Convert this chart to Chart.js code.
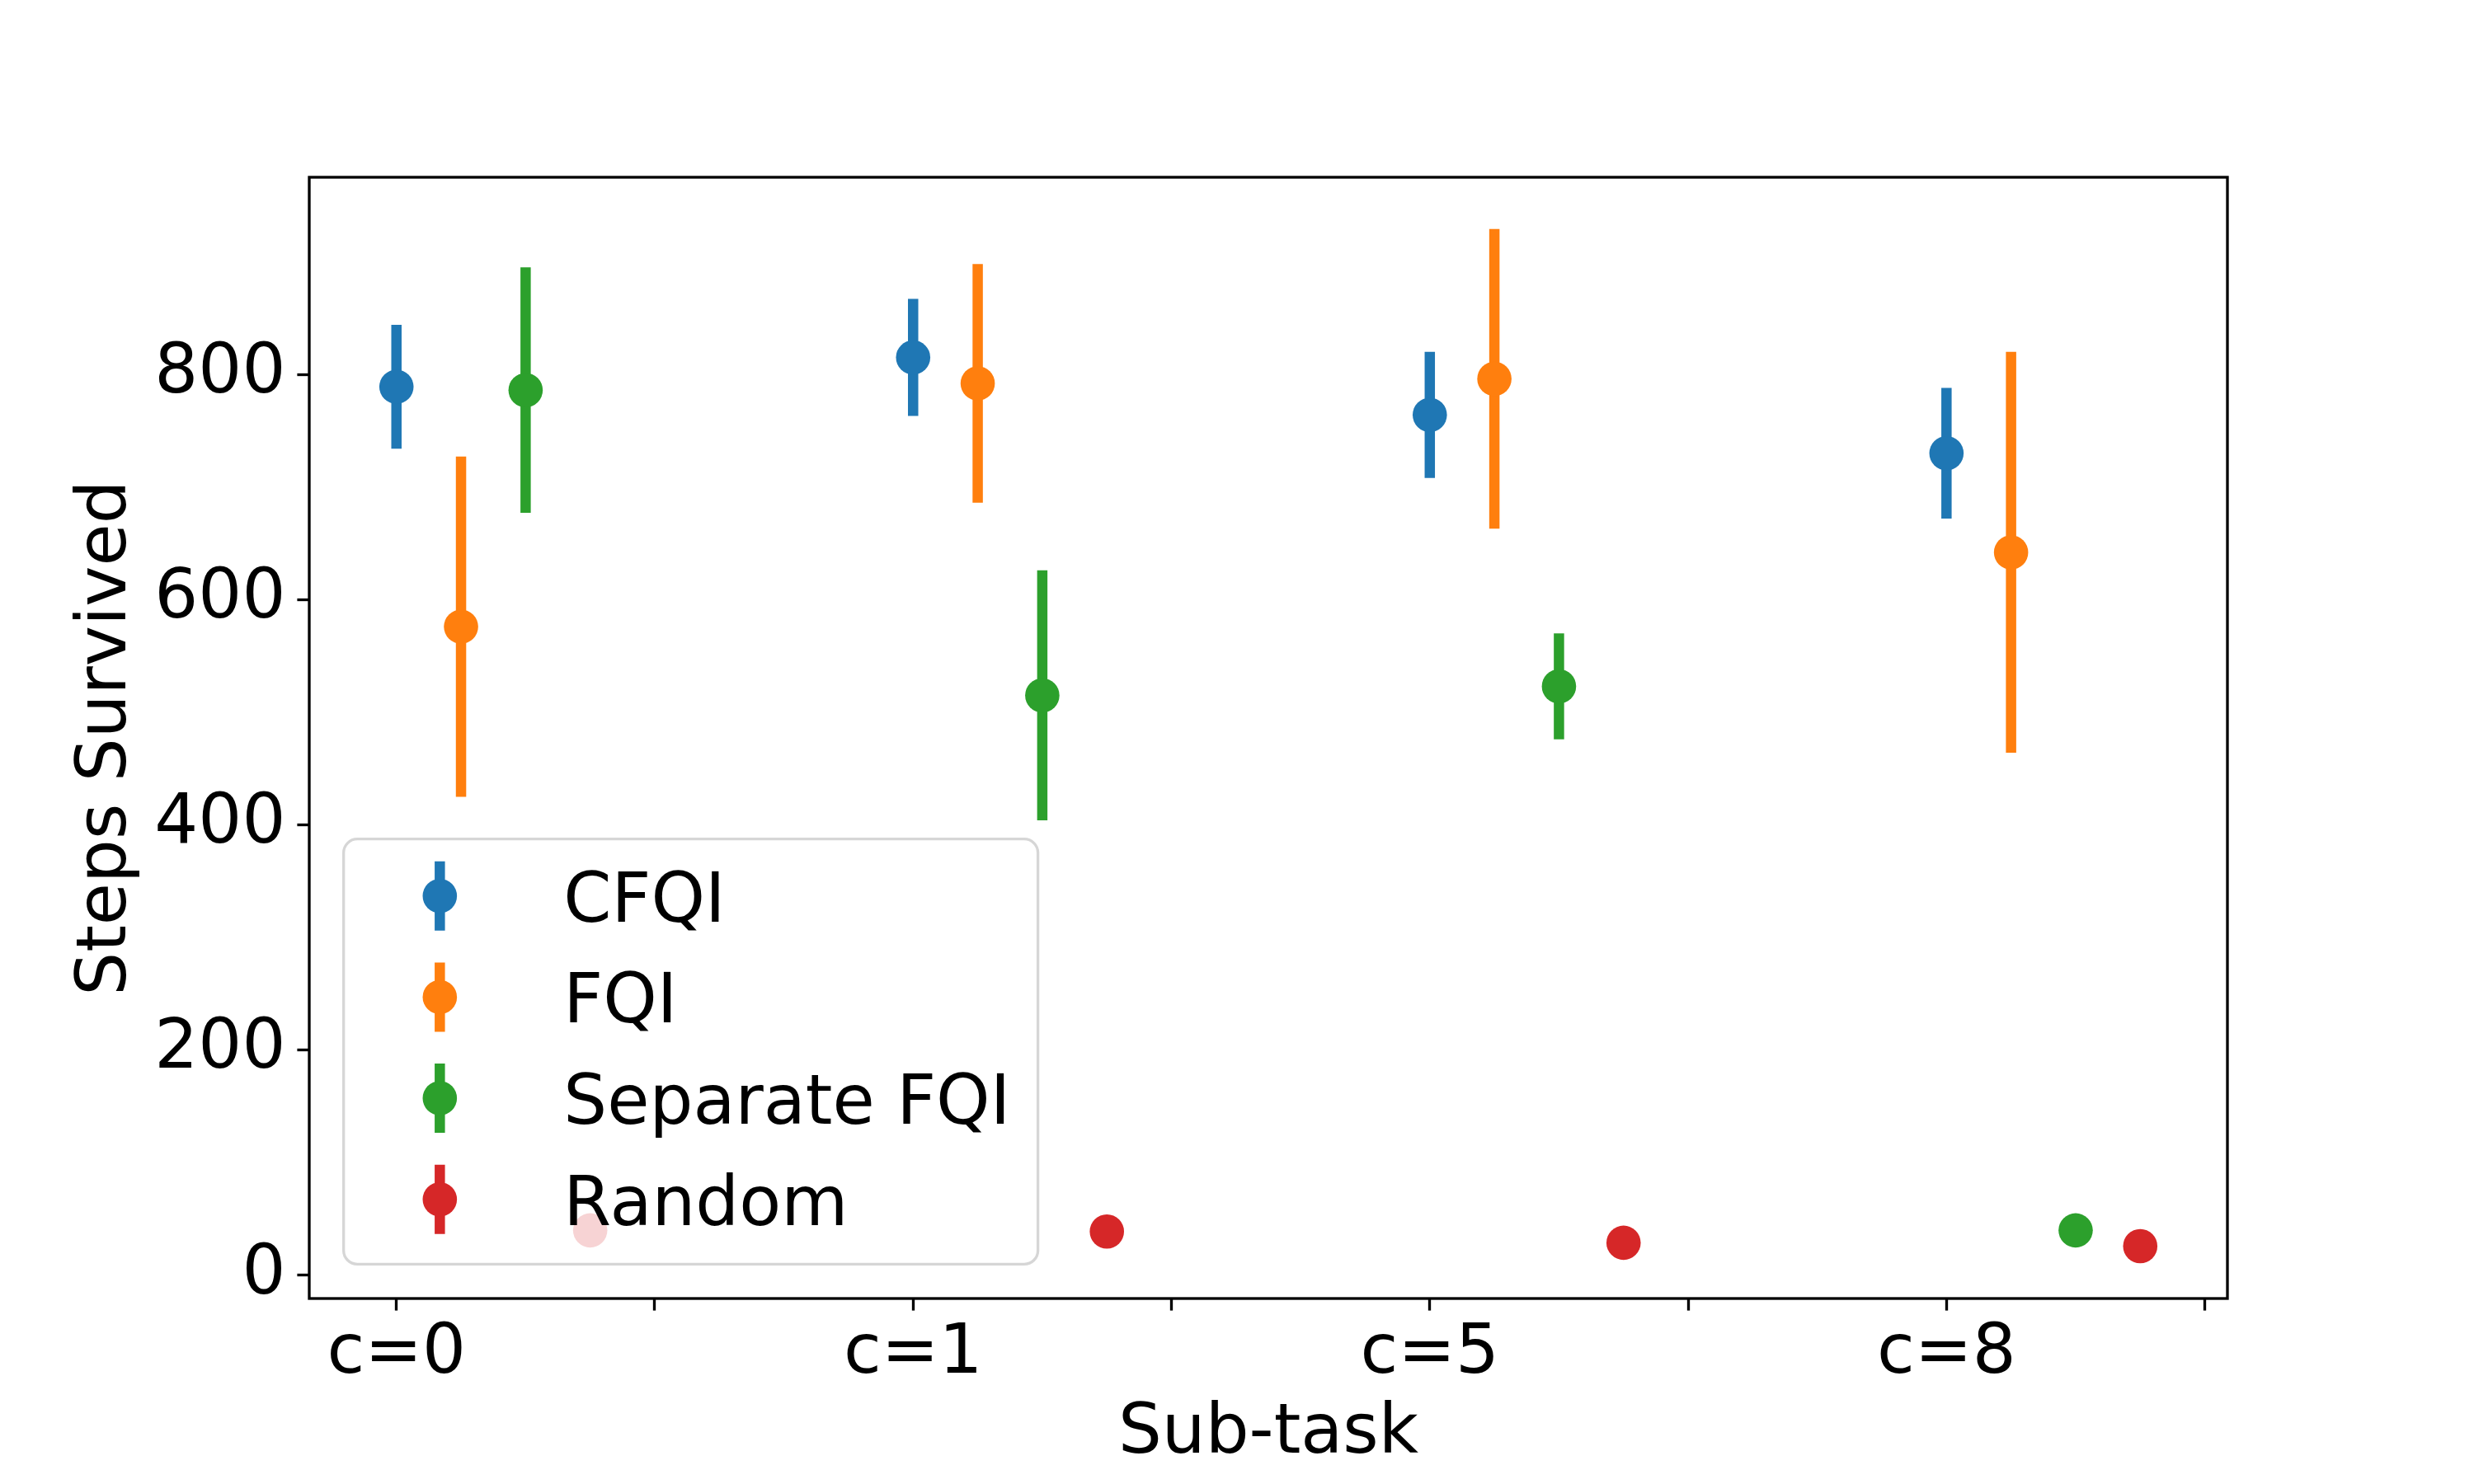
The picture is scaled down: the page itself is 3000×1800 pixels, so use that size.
<!DOCTYPE html>
<html><head><meta charset="utf-8">
<script src="https://cdn.jsdelivr.net/npm/chart.js@4.4.1/dist/chart.umd.min.js"></script>
<style>html,body{margin:0;padding:0;background:#fff}canvas{display:block}</style>
</head><body>
<canvas id="c" width="3000" height="1800" style="width:3000px;height:1800px"></canvas>
<script>
// ---- data ----
const categories = ['c=0', 'c=1', 'c=5', 'c=8'];
const seriesNames = ['CFQI', 'FQI', 'Separate FQI', 'Random'];
const seriesOffsets = [0, 0.125, 0.25, 0.375];
const cfqiMean = [789, 815, 764, 730];
const cfqiErr  = [55, 52, 56, 58];
const fqiMean  = [576, 792, 796, 642];
const fqiErr   = [151, 106, 133, 178];
const sepMean  = [786, 515, 523, 40];
const sepErr   = [109, 111, 47, 5];
const randMean = [40, 39, 29, 26];
const randErr  = [4, 4, 4, 4];
const yTicks = [0, 200, 400, 600, 800];
const xMajorTicks = [0, 1, 2, 3];
const xMinorTicks = [0.5, 1.5, 2.5, 3.5];

// ---- style ----
const colors = ['#1f77b4', '#ff7f0e', '#2ca02c', '#d62728'];
const FS = 83.33;
const FONT = 'DejaVu Sans';
const ERR_W = 12.5;
const MARK_R = 20.8;
const xMin = -0.16875, xMax = 3.54375;
const yMin = -20.5, yMax = 975;

Chart.defaults.font.family = FONT;
Chart.defaults.color = '#000';

const means = [cfqiMean, fqiMean, sepMean, randMean];
const errs = [cfqiErr, fqiErr, sepErr, randErr];

const datasets = seriesNames.map((name, s) => ({
  label: name,
  data: categories.map((c, i) => ({ x: i + seriesOffsets[s], y: means[s][i] })),
  errs: errs[s],
  backgroundColor: colors[s],
  borderColor: colors[s],
  pointRadius: MARK_R,
  pointHoverRadius: MARK_R,
  pointBorderWidth: 0,
  showLine: false
}));

const errorBarPlugin = {
  id: 'errorBars',
  beforeDatasetDraw(chart, args) {
    const ds = chart.data.datasets[args.index];
    const xs = chart.scales.x, ys = chart.scales.y;
    const ctx = chart.ctx;
    ctx.save();
    ctx.strokeStyle = ds.backgroundColor;
    ctx.lineWidth = ERR_W;
    ctx.lineCap = 'butt';
    ds.data.forEach((p, i) => {
      const e = ds.errs[i];
      const px = xs.getPixelForValue(p.x);
      ctx.beginPath();
      ctx.moveTo(px, ys.getPixelForValue(p.y - e));
      ctx.lineTo(px, ys.getPixelForValue(p.y + e));
      ctx.stroke();
    });
    ctx.restore();
  }
};

const framePlugin = {
  id: 'frame',
  afterDatasetsDraw(chart) {
    const {ctx, chartArea: a} = chart;
    ctx.save();
    ctx.strokeStyle = '#000';
    ctx.lineWidth = 3.33;
    ctx.lineJoin = 'miter';
    ctx.strokeRect(a.left, a.top, a.right - a.left, a.bottom - a.top);
    ctx.restore();
  }
};

function roundRect(ctx, x, y, w, h, r) {
  ctx.beginPath();
  ctx.moveTo(x + r, y);
  ctx.lineTo(x + w - r, y);
  ctx.arcTo(x + w, y, x + w, y + r, r);
  ctx.lineTo(x + w, y + h - r);
  ctx.arcTo(x + w, y + h, x + w - r, y + h, r);
  ctx.lineTo(x + r, y + h);
  ctx.arcTo(x, y + h, x, y + h - r, r);
  ctx.lineTo(x, y + r);
  ctx.arcTo(x, y, x + r, y, r);
  ctx.closePath();
}

const legendPlugin = {
  id: 'mplLegend',
  afterDraw(chart) {
    const {ctx, chartArea: a} = chart;
    const pad = 0.4 * FS, handleLen = 2 * FS, handlePad = 0.8 * FS;
    const textH = 0.972 * FS, spacing = 0.5 * FS;
    ctx.save();
    ctx.font = FS + 'px "' + FONT + '"';
    let maxW = 0;
    chart.data.datasets.forEach(d => { maxW = Math.max(maxW, ctx.measureText(d.label).width); });
    const n = chart.data.datasets.length;
    const w = 2 * pad + handleLen + handlePad + maxW;
    const h = 2 * pad + n * textH + (n - 1) * spacing;
    const x0 = a.left + 0.5 * FS;
    const y0 = a.bottom - 0.5 * FS - h;
    roundRect(ctx, x0, y0, w, h, 0.2 * FS);
    ctx.fillStyle = 'rgba(255,255,255,0.8)';
    ctx.fill();
    ctx.strokeStyle = 'rgba(204,204,204,0.8)';
    ctx.lineWidth = 3.33;
    ctx.stroke();
    chart.data.datasets.forEach((d, k) => {
      const rowTop = y0 + pad + k * (textH + spacing);
      const cy = rowTop + 35.7;
      const cx = x0 + pad + handleLen / 2;
      ctx.strokeStyle = d.backgroundColor;
      ctx.lineWidth = ERR_W;
      ctx.lineCap = 'butt';
      ctx.beginPath();
      ctx.moveTo(cx, cy - 42);
      ctx.lineTo(cx, cy + 42);
      ctx.stroke();
      ctx.fillStyle = d.backgroundColor;
      ctx.beginPath();
      ctx.arc(cx, cy, MARK_R, 0, Math.PI * 2);
      ctx.fill();
      ctx.fillStyle = '#000';
      ctx.textAlign = 'left';
      ctx.textBaseline = 'alphabetic';
      ctx.fillText(d.label, x0 + pad + handleLen + handlePad, rowTop + 66.7);
    });
    ctx.restore();
  }
};

new Chart(document.getElementById('c'), {
  type: 'scatter',
  data: { datasets },
  plugins: [errorBarPlugin, framePlugin, legendPlugin],
  options: {
    responsive: false,
    animation: false,
    devicePixelRatio: 1,
    layout: { padding: { left: 0, top: 215, right: 299, bottom: 0 } },
    plugins: { legend: { display: false }, tooltip: { enabled: false } },
    scales: {
      x: {
        type: 'linear', min: xMin, max: xMax,
        afterBuildTicks: s => {
          s.ticks = xMajorTicks.concat(xMinorTicks).sort((a, b) => a - b).map(v => ({ value: v }));
        },
        afterFit: s => { s.height = 225; },
        ticks: {
          autoSkip: false, maxRotation: 0, minRotation: 0,
          color: '#000', font: { size: FS }, padding: 4,
          callback: v => (Number.isInteger(v) ? categories[v] : '')
        },
        grid: { display: true, drawOnChartArea: false, drawTicks: true, tickLength: 14.6, tickWidth: 3.33, tickColor: '#000' },
        border: { display: false },
        title: { display: true, text: 'Sub-task', color: '#000', font: { size: FS }, padding: { top: 0, bottom: 10 } }
      },
      y: {
        type: 'linear', min: yMin, max: yMax,
        afterBuildTicks: s => { s.ticks = yTicks.map(v => ({ value: v })); },
        afterFit: s => { s.width = 375; },
        ticks: { color: '#000', font: { size: FS }, padding: 14, callback: v => String(v) },
        grid: { display: true, drawOnChartArea: false, drawTicks: true, tickLength: 14.6, tickWidth: 3.33, tickColor: '#000' },
        border: { display: false },
        title: { display: true, text: 'Steps Survived', color: '#000', font: { size: FS }, padding: { top: 80, bottom: 0 } }
      }
    }
  }
});
</script>
</body></html>
